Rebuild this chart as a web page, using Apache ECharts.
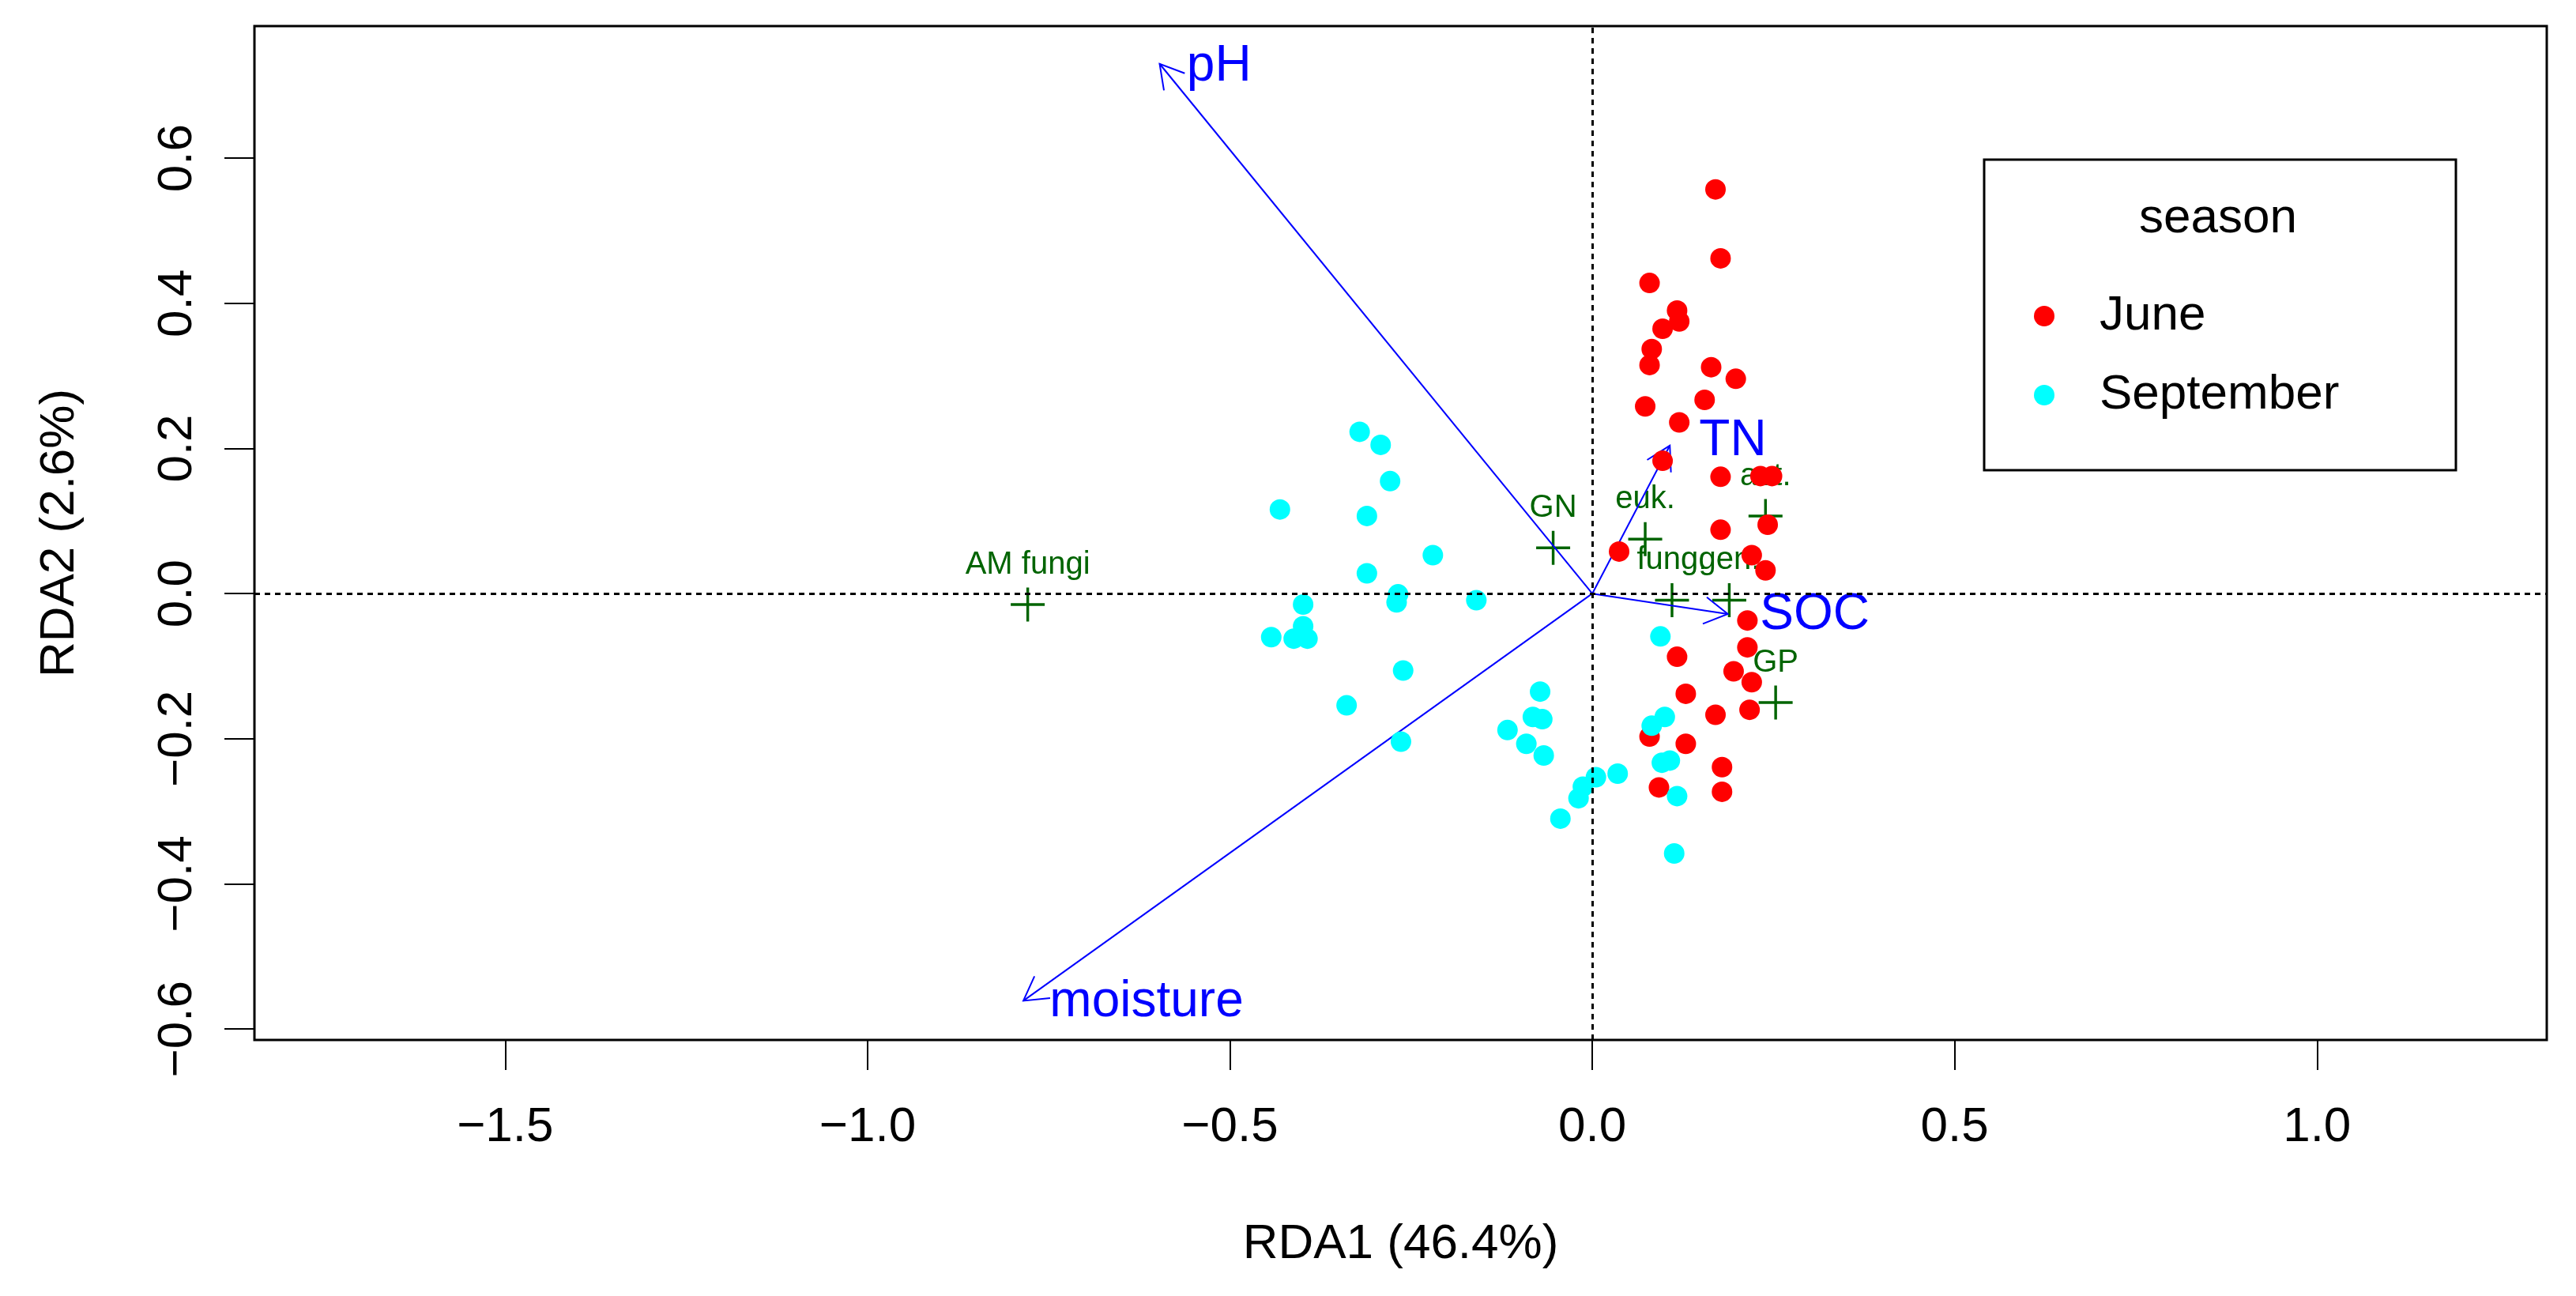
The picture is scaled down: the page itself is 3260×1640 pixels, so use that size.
<!DOCTYPE html>
<html>
<head>
<meta charset="utf-8">
<title>RDA biplot</title>
<script src="https://cdn.jsdelivr.net/npm/echarts@6/dist/echarts.min.js"></script>
<style>
  html, body { margin: 0; padding: 0; background: #fff; }
  #main { width: 3260px; height: 1640px; }
</style>
</head>
<body>
<div id="main"></div>
<script>
  // site scores (RDA1, RDA2)
  var juneX = [0.170, 0.177, 0.079, 0.117, 0.120, 0.097, 0.082, 0.079, 0.164, 0.198,
               0.155, 0.073, 0.120, 0.097, 0.177, 0.232, 0.248, 0.177, 0.242, 0.220,
               0.239, 0.037, 0.214, 0.214, 0.117, 0.195, 0.220, 0.129, 0.170, 0.217,
               0.079, 0.129, 0.179, 0.092, 0.179];
  var juneY = [0.557, 0.462, 0.428, 0.390, 0.375, 0.365, 0.337, 0.315, 0.312, 0.296,
               0.267, 0.258, 0.236, 0.183, 0.161, 0.162, 0.162, 0.088, 0.095, 0.053,
               0.032, 0.058, -0.037, -0.074, -0.087, -0.107, -0.122, -0.138, -0.167, -0.160,
               -0.197, -0.207, -0.239, -0.267, -0.273];

  var septX = [-0.321, -0.292, -0.279, -0.431, -0.311, -0.220, -0.311, -0.268, -0.270, -0.399,
               -0.160, -0.399, -0.443, -0.412, -0.393, -0.261, -0.339, -0.264, 0.094, -0.072,
               -0.082, -0.069, -0.117, -0.091, -0.067, 0.005, -0.013, -0.019, 0.035, -0.044,
               0.100, 0.082, 0.107, 0.096, 0.117, 0.113];
  var septY = [0.223, 0.205, 0.155, 0.116, 0.107, 0.053, 0.028, -0.001, -0.012, -0.015,
               -0.009, -0.045, -0.060, -0.062, -0.062, -0.106, -0.154, -0.204, -0.059, -0.135,
               -0.170, -0.173, -0.188, -0.207, -0.223, -0.253, -0.266, -0.282, -0.248, -0.310,
               -0.170, -0.182, -0.230, -0.233, -0.279, -0.358];

  // species scores
  var speciesNames = ['AM fungi', 'GN', 'euk.', 'fung.', 'gen.', 'act.', 'GP'];
  var speciesX = [-0.779, -0.054, 0.073, 0.110, 0.189, 0.239, 0.253];
  var speciesY = [-0.015, 0.063, 0.075, -0.009, -0.009, 0.107, -0.150];

  // environmental arrows: tip and label position
  var envNames = ['pH', 'TN', 'SOC', 'moisture'];
  var envX = [-0.597, 0.107, 0.187, -0.785];
  var envY = [0.730, 0.204, -0.028, -0.561];
  var envLabelX = [-0.515, 0.194, 0.307, -0.615];
  var envLabelY = [0.726, 0.210, -0.030, -0.563];

  var xTicks = [-1.5, -1.0, -0.5, 0.0, 0.5, 1.0];
  var yTicks = [-0.6, -0.4, -0.2, 0.0, 0.2, 0.4, 0.6];

  var FONT = 'Liberation Sans, Arial, sans-serif';
  var fmt = function (v) { return v.toFixed(1).replace('-', '\u2212'); };

  function pairs(xs, ys) {
    return xs.map(function (x, i) { return [x, ys[i]]; });
  }

  var myChart = echarts.init(document.getElementById('main'));

  var option = {
    animation: false,
    backgroundColor: '#fff',
    grid: {
      left: 322, right: 37, top: 33, bottom: 324,
      show: true, borderColor: '#000', borderWidth: 3, backgroundColor: 'transparent'
    },
    xAxis: {
      type: 'value', min: -1.846, max: 1.317,
      name: 'RDA1 (46.4%)', nameLocation: 'middle', nameGap: 228,
      nameTextStyle: { fontSize: 62, color: '#000', fontFamily: FONT },
      axisLine: { show: false, onZero: false },
      splitLine: { show: false },
      axisTick: { show: true, length: 38, inside: false, customValues: xTicks, lineStyle: { color: '#000', width: 2 } },
      axisLabel: { customValues: xTicks, formatter: fmt, fontSize: 62, color: '#000', fontFamily: FONT, margin: 80 }
    },
    yAxis: {
      type: 'value', min: -0.615, max: 0.782,
      name: 'RDA2 (2.6%)', nameLocation: 'middle', nameGap: 215, nameRotate: 90,
      nameTextStyle: { fontSize: 62, color: '#000', fontFamily: FONT },
      axisLine: { show: false, onZero: false },
      splitLine: { show: false },
      axisTick: { show: true, length: 38, customValues: yTicks, lineStyle: { color: '#000', width: 2 } },
      axisLabel: { customValues: yTicks, formatter: fmt, rotate: 90, fontSize: 62, color: '#000', fontFamily: FONT, margin: 66 }
    },
    legend: {
      data: ['June', 'September'],
      orient: 'vertical', left: 2569, top: 360,
      icon: 'circle', itemWidth: 26, itemHeight: 26, itemGap: 30,
      selectedMode: false,
      textStyle: { fontSize: 62, lineHeight: 70, color: '#000', fontFamily: FONT, padding: [0, 0, 0, 52] }
    },
    graphic: [
      { type: 'rect', shape: { x: 2511, y: 202, width: 597, height: 393 },
        style: { fill: 'none', stroke: '#000', lineWidth: 3 }, z: 10 },
      { type: 'text', x: 2807, y: 277,
        style: { text: 'season', font: '62px ' + FONT, fill: '#000', align: 'center', verticalAlign: 'middle' }, z: 10 }
    ],
    series: [
      {
        name: 'species', type: 'scatter', z: 2,
        symbol: 'path://M0,46 H100 V54 H0 Z M46,0 H54 V100 H46 Z',
        symbolSize: 43,
        itemStyle: { color: '#006400', opacity: 1 },
        label: {
          show: true, formatter: '{b}', position: 'inside', offset: [0, -50],
          fontSize: 40, color: '#006400', fontFamily: FONT
        },
        data: speciesNames.map(function (n, i) { return { name: n, value: [speciesX[i], speciesY[i]] }; }),
        markLine: {
          silent: true, symbol: 'none', label: { show: false },
          lineStyle: { color: '#000', type: [7, 6], width: 3 },
          data: [{ xAxis: 0 }, { yAxis: 0 }]
        }
      },
      {
        name: 'env', type: 'custom', z: 3,
        data: pairs(envX, envY).map(function (p, i) { return [p[0], p[1], envLabelX[i], envLabelY[i]]; }),
        renderItem: function (params, api) {
          var o = api.coord([0, 0]);
          var t = api.coord([api.value(0), api.value(1)]);
          var l = api.coord([api.value(2), api.value(3)]);
          var ang = Math.atan2(o[1] - t[1], o[0] - t[0]);
          var len = 34, spread = Math.PI / 6;
          var a1 = [t[0] + len * Math.cos(ang + spread), t[1] + len * Math.sin(ang + spread)];
          var a2 = [t[0] + len * Math.cos(ang - spread), t[1] + len * Math.sin(ang - spread)];
          var blue = '#0000FF';
          return {
            type: 'group',
            children: [
              { type: 'line', shape: { x1: o[0], y1: o[1], x2: t[0], y2: t[1] },
                style: { stroke: blue, lineWidth: 2 } },
              { type: 'polyline', shape: { points: [a1, t, a2] },
                style: { stroke: blue, lineWidth: 2, fill: null } },
              { type: 'text', x: l[0], y: l[1],
                style: { text: envNames[params.dataIndex], font: '64px ' + FONT, fill: blue,
                         align: 'center', verticalAlign: 'middle' } }
            ]
          };
        }
      },
      {
        name: 'June', type: 'scatter', z: 4, symbol: 'circle', symbolSize: 26,
        itemStyle: { color: '#FF0000', opacity: 1 },
        data: pairs(juneX, juneY)
      },
      {
        name: 'September', type: 'scatter', z: 4, symbol: 'circle', symbolSize: 26,
        itemStyle: { color: '#00FFFF', opacity: 1 },
        data: pairs(septX, septY)
      }
    ]
  };

  myChart.setOption(option);

  window.addEventListener('resize', function () {
    myChart.resize();
  });
</script>
</body>
</html>
